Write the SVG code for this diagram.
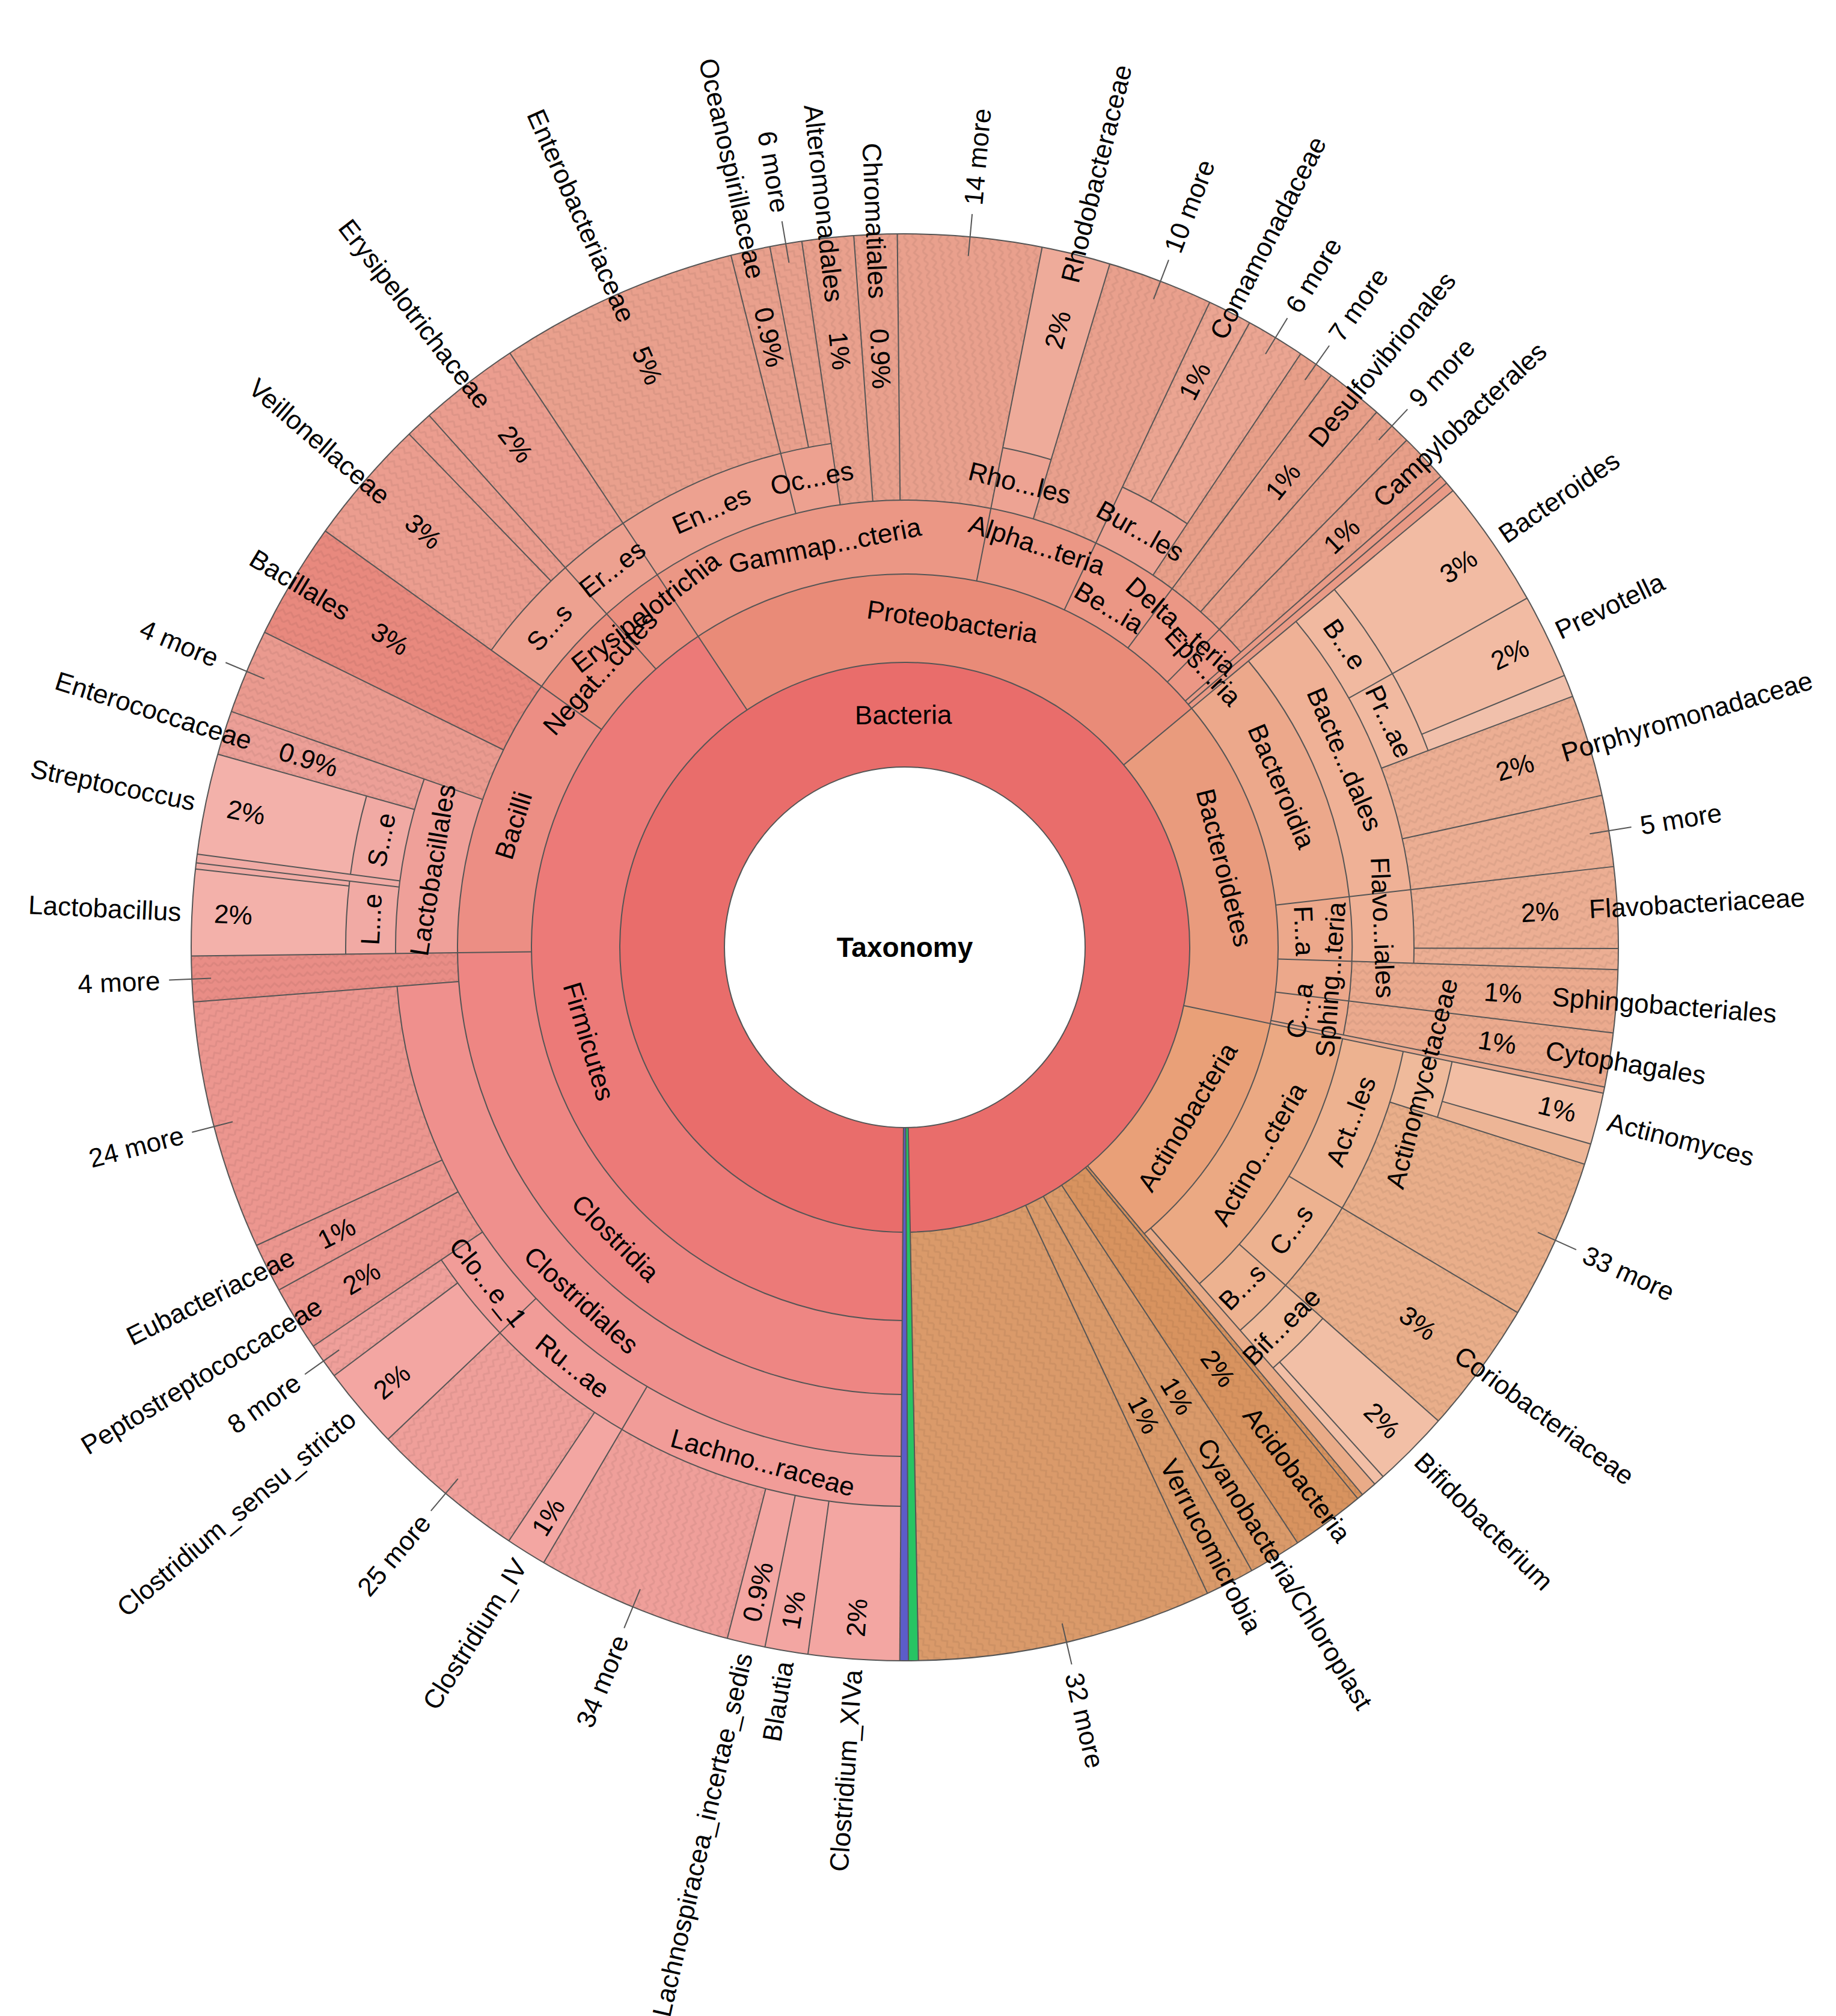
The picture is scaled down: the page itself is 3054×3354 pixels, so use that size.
<svg xmlns="http://www.w3.org/2000/svg" width="3054" height="3354" viewBox="0 0 3054 3354">
<style>
.b{fill:none}
.h{fill:none;stroke:url(#hp)}
.o{fill:none;stroke:#555;stroke-width:2}
.l{stroke:#555;stroke-width:2;fill:none}
text{font-family:"Liberation Sans",Arial,sans-serif;font-size:44px;fill:#000;dominant-baseline:central}
.m{text-anchor:middle}.s{text-anchor:start}.e{text-anchor:end}
.t{font-weight:bold;font-size:46px}
</style>
<defs>
<pattern id="hp" width="28" height="28" patternUnits="userSpaceOnUse"><path d="M0 7L7 0L14 7L21 0L28 7M0 21L7 14L14 21L21 14L28 21" fill="none" stroke="#000" stroke-opacity="0.06" stroke-width="3"/></pattern>
</defs>
<rect width="3054" height="3354" fill="#fff"/>
<g transform="translate(1505,1576)">
<g id="kingdom">
<circle class="b" r="387" stroke-width="174" stroke="#e96d6b" pathLength="360" stroke-dasharray="358.5 999" transform="rotate(90.4)"/>
<circle class="b" r="743.5" stroke-width="887" stroke="#27c463" pathLength="360" stroke-dasharray="0.8 999" transform="rotate(88.9)"/>
<circle class="b" r="743.5" stroke-width="887" stroke="#5c5cc9" pathLength="360" stroke-dasharray="0.7 999" transform="rotate(89.7)"/>
</g>
<g id="phylum">
<circle class="b" r="547.5" stroke-width="147" stroke="#ec7a78" pathLength="360" stroke-dasharray="146 999" transform="rotate(90.4)"/>
<circle class="b" r="547.5" stroke-width="147" stroke="#e98b78" pathLength="360" stroke-dasharray="83.8 999" transform="rotate(236.4)"/>
<circle class="b" r="547.5" stroke-width="147" stroke="#e99b7d" pathLength="360" stroke-dasharray="51.6 999" transform="rotate(-39.8)"/>
<circle class="b" r="547.5" stroke-width="147" stroke="#e9a078" pathLength="360" stroke-dasharray="38.3 999" transform="rotate(11.8)"/>
<circle class="b" r="830.5" stroke-width="713" stroke="#d8935f" pathLength="360" stroke-dasharray="6.5 999" transform="rotate(50.1)"/>
<circle class="b" r="830.5" stroke-width="713" stroke="#da9a6a" pathLength="360" stroke-dasharray="32.3 999" transform="rotate(56.6)"/>
<circle class="h" r="830.5" stroke-width="713" pathLength="360" stroke-dasharray="38.8 999" transform="rotate(50.1)"/>
</g>
<g id="class">
<circle class="b" r="682.5" stroke-width="123" stroke="#ee8683" pathLength="360" stroke-dasharray="88.9 999" transform="rotate(90.4)"/>
<circle class="b" r="682.5" stroke-width="123" stroke="#ec8e84" pathLength="360" stroke-dasharray="36.4 999" transform="rotate(179.3)"/>
<circle class="b" r="682.5" stroke-width="123" stroke="#eb8f7f" pathLength="360" stroke-dasharray="20.7 999" transform="rotate(215.7)"/>
<circle class="b" r="682.5" stroke-width="123" stroke="#eb9785" pathLength="360" stroke-dasharray="82.3 999" transform="rotate(236.4)"/>
<circle class="b" r="904" stroke-width="566" stroke="#e99a86" pathLength="360" stroke-dasharray="1.5 999" transform="rotate(-41.3)"/>
<circle class="b" r="682.5" stroke-width="123" stroke="#eca88b" pathLength="360" stroke-dasharray="51.1 999" transform="rotate(-39.8)"/>
<circle class="b" r="904" stroke-width="566" stroke="#eaa98e" pathLength="360" stroke-dasharray="0.5 999" transform="rotate(11.3)"/>
<circle class="b" r="682.5" stroke-width="123" stroke="#eba983" pathLength="360" stroke-dasharray="37 999" transform="rotate(11.8)"/>
<circle class="b" r="904" stroke-width="566" stroke="#e9ab88" pathLength="360" stroke-dasharray="1.3 999" transform="rotate(48.8)"/>
</g>
<g id="order">
<circle class="b" r="795.5" stroke-width="103" stroke="#ef908d" pathLength="360" stroke-dasharray="85.2 999" transform="rotate(90.4)"/>
<circle class="b" r="965.5" stroke-width="443" stroke="#e98d86" pathLength="360" stroke-dasharray="3.7 999" transform="rotate(175.6)"/>
<circle class="h" r="965.5" stroke-width="443" pathLength="360" stroke-dasharray="3.7 999" transform="rotate(175.6)"/>
<circle class="b" r="795.5" stroke-width="103" stroke="#efa099" pathLength="360" stroke-dasharray="20 999" transform="rotate(179.3)"/>
<circle class="b" r="965.5" stroke-width="443" stroke="#ea9a8f" pathLength="360" stroke-dasharray="6.9 999" transform="rotate(199.3)"/>
<circle class="b" r="965.5" stroke-width="443" stroke="#e8897e" pathLength="360" stroke-dasharray="9.5 999" transform="rotate(206.2)"/>
<circle class="h" r="965.5" stroke-width="443" pathLength="360" stroke-dasharray="16.4 999" transform="rotate(199.3)"/>
<circle class="b" r="795.5" stroke-width="103" stroke="#eda190" pathLength="360" stroke-dasharray="46 999" transform="rotate(215.7)"/>
<circle class="b" r="965.5" stroke-width="443" stroke="#e9a08d" pathLength="360" stroke-dasharray="19.4 999" transform="rotate(261.7)"/>
<circle class="h" r="965.5" stroke-width="443" pathLength="360" stroke-dasharray="19.4 999" transform="rotate(261.7)"/>
<circle class="b" r="795.5" stroke-width="103" stroke="#eda393" pathLength="360" stroke-dasharray="5.6 999" transform="rotate(-78.9)"/>
<circle class="b" r="965.5" stroke-width="443" stroke="#e9a08d" pathLength="360" stroke-dasharray="8.6 999" transform="rotate(-73.3)"/>
<circle class="h" r="965.5" stroke-width="443" pathLength="360" stroke-dasharray="8.6 999" transform="rotate(-73.3)"/>
<circle class="b" r="795.5" stroke-width="103" stroke="#eda393" pathLength="360" stroke-dasharray="8.4 999" transform="rotate(-64.7)"/>
<circle class="b" r="965.5" stroke-width="443" stroke="#e89f89" pathLength="360" stroke-dasharray="15 999" transform="rotate(-56.3)"/>
<circle class="h" r="965.5" stroke-width="443" pathLength="360" stroke-dasharray="15 999" transform="rotate(-56.3)"/>
<circle class="b" r="795.5" stroke-width="103" stroke="#efb196" pathLength="360" stroke-dasharray="41.6 999" transform="rotate(-39.8)"/>
<circle class="b" r="965.5" stroke-width="443" stroke="#ebaa8e" pathLength="360" stroke-dasharray="9.5 999" transform="rotate(1.8)"/>
<circle class="h" r="965.5" stroke-width="443" pathLength="360" stroke-dasharray="9.5 999" transform="rotate(1.8)"/>
<circle class="b" r="795.5" stroke-width="103" stroke="#edb290" pathLength="360" stroke-dasharray="37 999" transform="rotate(11.8)"/>
</g>
<g id="family">
<circle class="b" r="888.5" stroke-width="83" stroke="#f19c98" pathLength="360" stroke-dasharray="55.6 999" transform="rotate(90.4)"/>
<circle class="b" r="1017" stroke-width="340" stroke="#ec968f" pathLength="360" stroke-dasharray="29.6 999" transform="rotate(146)"/>
<circle class="h" r="1017" stroke-width="340" pathLength="360" stroke-dasharray="29.6 999" transform="rotate(146)"/>
<circle class="b" r="888.5" stroke-width="83" stroke="#f1aaa4" pathLength="360" stroke-dasharray="7.5 999" transform="rotate(179.3)"/>
<circle class="b" r="1017" stroke-width="340" stroke="#f0aba5" pathLength="360" stroke-dasharray="0.7 999" transform="rotate(186.8)"/>
<circle class="b" r="888.5" stroke-width="83" stroke="#f1aaa4" pathLength="360" stroke-dasharray="8.2 999" transform="rotate(187.5)"/>
<circle class="b" r="1017" stroke-width="340" stroke="#ec9f97" pathLength="360" stroke-dasharray="3.6 999" transform="rotate(195.7)"/>
<circle class="h" r="1017" stroke-width="340" pathLength="360" stroke-dasharray="3.6 999" transform="rotate(195.7)"/>
<circle class="b" r="1017" stroke-width="340" stroke="#eb9d8f" pathLength="360" stroke-dasharray="20.7 999" transform="rotate(215.7)"/>
<circle class="b" r="1017" stroke-width="340" stroke="#e9a08d" pathLength="360" stroke-dasharray="25.3 999" transform="rotate(236.4)"/>
<circle class="h" r="1017" stroke-width="340" pathLength="360" stroke-dasharray="46 999" transform="rotate(215.7)"/>
<circle class="b" r="1017" stroke-width="340" stroke="#eeab9a" pathLength="360" stroke-dasharray="5.6 999" transform="rotate(-78.9)"/>
<circle class="b" r="1017" stroke-width="340" stroke="#eba592" pathLength="360" stroke-dasharray="8.4 999" transform="rotate(-64.7)"/>
<circle class="h" r="1017" stroke-width="340" pathLength="360" stroke-dasharray="8.4 999" transform="rotate(-64.7)"/>
<circle class="b" r="888.5" stroke-width="83" stroke="#f1b9a0" pathLength="360" stroke-dasharray="19.2 999" transform="rotate(-39.8)"/>
<circle class="b" r="1017" stroke-width="340" stroke="#ecae93" pathLength="360" stroke-dasharray="22.4 999" transform="rotate(-20.6)"/>
<circle class="h" r="1017" stroke-width="340" pathLength="360" stroke-dasharray="22.4 999" transform="rotate(-20.6)"/>
<circle class="b" r="888.5" stroke-width="83" stroke="#efba9b" pathLength="360" stroke-dasharray="5.9 999" transform="rotate(11.8)"/>
<circle class="b" r="1017" stroke-width="340" stroke="#e9ae8a" pathLength="360" stroke-dasharray="23.9 999" transform="rotate(17.7)"/>
<circle class="h" r="1017" stroke-width="340" pathLength="360" stroke-dasharray="23.9 999" transform="rotate(17.7)"/>
<circle class="b" r="888.5" stroke-width="83" stroke="#efba9b" pathLength="360" stroke-dasharray="7.2 999" transform="rotate(41.6)"/>
</g>
<g id="genus">
<circle class="b" r="1058.5" stroke-width="257" stroke="#f3a6a2" pathLength="360" stroke-dasharray="55.6 999" transform="rotate(90.4)"/>
<circle class="b" r="1058.5" stroke-width="257" stroke="#ef9f9a" pathLength="360" stroke-dasharray="16 999" transform="rotate(104.4)"/>
<circle class="h" r="1058.5" stroke-width="257" pathLength="360" stroke-dasharray="16 999" transform="rotate(104.4)"/>
<circle class="b" r="1058.5" stroke-width="257" stroke="#ef9f9a" pathLength="360" stroke-dasharray="12.7 999" transform="rotate(123.7)"/>
<circle class="h" r="1058.5" stroke-width="257" pathLength="360" stroke-dasharray="12.7 999" transform="rotate(123.7)"/>
<circle class="b" r="1058.5" stroke-width="257" stroke="#ef9f9a" pathLength="360" stroke-dasharray="2.9 999" transform="rotate(143.1)"/>
<circle class="h" r="1058.5" stroke-width="257" pathLength="360" stroke-dasharray="2.9 999" transform="rotate(143.1)"/>
<circle class="b" r="1058.5" stroke-width="257" stroke="#f3b1aa" pathLength="360" stroke-dasharray="7 999" transform="rotate(179.3)"/>
<circle class="b" r="1058.5" stroke-width="257" stroke="#f0aba5" pathLength="360" stroke-dasharray="0.5 999" transform="rotate(186.3)"/>
<circle class="b" r="1058.5" stroke-width="257" stroke="#f3b1aa" pathLength="360" stroke-dasharray="8.2 999" transform="rotate(187.5)"/>
<circle class="b" r="1058.5" stroke-width="257" stroke="#f2bba3" pathLength="360" stroke-dasharray="17.4 999" transform="rotate(-39.8)"/>
<circle class="b" r="1058.5" stroke-width="257" stroke="#f1c0ab" pathLength="360" stroke-dasharray="1.8 999" transform="rotate(-22.4)"/>
<circle class="b" r="1058.5" stroke-width="257" stroke="#f2bea4" pathLength="360" stroke-dasharray="4.2 999" transform="rotate(11.8)"/>
<circle class="b" r="1058.5" stroke-width="257" stroke="#edb596" pathLength="360" stroke-dasharray="1.7 999" transform="rotate(16)"/>
<circle class="b" r="1058.5" stroke-width="257" stroke="#f2bfa6" pathLength="360" stroke-dasharray="7.2 999" transform="rotate(41.6)"/>
</g>
<g id="outlines">
<circle class="o" r="300"/>
<circle class="o" r="1187"/>
<circle class="o" r="474" pathLength="360" stroke-dasharray="358.5 999" transform="rotate(90.4)"/>
<circle class="o" r="621" pathLength="360" stroke-dasharray="319.7 999" transform="rotate(90.4)"/>
<circle class="o" r="744" pathLength="360" stroke-dasharray="228.3 999" transform="rotate(90.4)"/>
<circle class="o" r="744" pathLength="360" stroke-dasharray="51.1 999" transform="rotate(-39.8)"/>
<circle class="o" r="744" pathLength="360" stroke-dasharray="37 999" transform="rotate(11.8)"/>
<circle class="o" r="847" pathLength="360" stroke-dasharray="85.2 999" transform="rotate(90.4)"/>
<circle class="o" r="847" pathLength="360" stroke-dasharray="20 999" transform="rotate(179.3)"/>
<circle class="o" r="847" pathLength="360" stroke-dasharray="46 999" transform="rotate(215.7)"/>
<circle class="o" r="847" pathLength="360" stroke-dasharray="5.6 999" transform="rotate(-78.9)"/>
<circle class="o" r="847" pathLength="360" stroke-dasharray="8.4 999" transform="rotate(-64.7)"/>
<circle class="o" r="847" pathLength="360" stroke-dasharray="41.6 999" transform="rotate(-39.8)"/>
<circle class="o" r="847" pathLength="360" stroke-dasharray="37 999" transform="rotate(11.8)"/>
<circle class="o" r="930" pathLength="360" stroke-dasharray="55.6 999" transform="rotate(90.4)"/>
<circle class="o" r="930" pathLength="360" stroke-dasharray="7.5 999" transform="rotate(179.3)"/>
<circle class="o" r="930" pathLength="360" stroke-dasharray="8.2 999" transform="rotate(187.5)"/>
<circle class="o" r="930" pathLength="360" stroke-dasharray="19.2 999" transform="rotate(-39.8)"/>
<circle class="o" r="930" pathLength="360" stroke-dasharray="5.9 999" transform="rotate(11.8)"/>
<circle class="o" r="930" pathLength="360" stroke-dasharray="7.2 999" transform="rotate(41.6)"/>
<path class="l" d="M0 -300V-1187" transform="rotate(180.4)"/>
<path class="l" d="M0 -300V-1187" transform="rotate(178.9)"/>
<path class="l" d="M0 -300V-1187" transform="rotate(179.7)"/>
<path class="l" d="M0 -474V-1187" transform="rotate(326.4)"/>
<path class="l" d="M0 -474V-1187" transform="rotate(50.2)"/>
<path class="l" d="M0 -474V-1187" transform="rotate(101.8)"/>
<path class="l" d="M0 -474V-1187" transform="rotate(140.1)"/>
<path class="l" d="M0 -474V-1187" transform="rotate(140.6)"/>
<path class="l" d="M0 -474V-1187" transform="rotate(146.6)"/>
<path class="l" d="M0 -474V-1187" transform="rotate(150.9)"/>
<path class="l" d="M0 -474V-1187" transform="rotate(154.9)"/>
<path class="l" d="M0 -621V-1187" transform="rotate(269.3)"/>
<path class="l" d="M0 -621V-1187" transform="rotate(305.7)"/>
<path class="l" d="M0 -621V-1187" transform="rotate(318.2)"/>
<path class="l" d="M0 -621V-1187" transform="rotate(11.1)"/>
<path class="l" d="M0 -621V-1187" transform="rotate(25.3)"/>
<path class="l" d="M0 -621V-1187" transform="rotate(36.7)"/>
<path class="l" d="M0 -621V-1187" transform="rotate(44.7)"/>
<path class="l" d="M0 -621V-1187" transform="rotate(48.7)"/>
<path class="l" d="M0 -621V-1187" transform="rotate(49.4)"/>
<path class="l" d="M0 -621V-1187" transform="rotate(83.5)"/>
<path class="l" d="M0 -621V-1187" transform="rotate(91.8)"/>
<path class="l" d="M0 -621V-1187" transform="rotate(96.9)"/>
<path class="l" d="M0 -621V-1187" transform="rotate(101.3)"/>
<path class="l" d="M0 -621V-1187" transform="rotate(138.8)"/>
<path class="l" d="M0 -744V-1187" transform="rotate(265.6)"/>
<path class="l" d="M0 -744V-1187" transform="rotate(289.3)"/>
<path class="l" d="M0 -744V-1187" transform="rotate(296.2)"/>
<path class="l" d="M0 -744V-1187" transform="rotate(345.9)"/>
<path class="l" d="M0 -744V-1187" transform="rotate(351.7)"/>
<path class="l" d="M0 -744V-1187" transform="rotate(355.9)"/>
<path class="l" d="M0 -744V-1187" transform="rotate(359.4)"/>
<path class="l" d="M0 -744V-1187" transform="rotate(16.7)"/>
<path class="l" d="M0 -744V-1187" transform="rotate(33.7)"/>
<path class="l" d="M0 -744V-1187" transform="rotate(41.4)"/>
<path class="l" d="M0 -744V-1187" transform="rotate(120.8)"/>
<path class="l" d="M0 -744V-1187" transform="rotate(131.6)"/>
<path class="l" d="M0 -847V-1187" transform="rotate(210.4)"/>
<path class="l" d="M0 -847V-1187" transform="rotate(226.4)"/>
<path class="l" d="M0 -847V-1187" transform="rotate(236)"/>
<path class="l" d="M0 -847V-1187" transform="rotate(241.3)"/>
<path class="l" d="M0 -847V-1187" transform="rotate(245.3)"/>
<path class="l" d="M0 -847V-1187" transform="rotate(276.8)"/>
<path class="l" d="M0 -847V-1187" transform="rotate(277.5)"/>
<path class="l" d="M0 -847V-1187" transform="rotate(285.7)"/>
<path class="l" d="M0 -847V-1187" transform="rotate(316)"/>
<path class="l" d="M0 -847V-1187" transform="rotate(349.1)"/>
<path class="l" d="M0 -847V-1187" transform="rotate(28.9)"/>
<path class="l" d="M0 -847V-1187" transform="rotate(60.7)"/>
<path class="l" d="M0 -847V-1187" transform="rotate(69.4)"/>
<path class="l" d="M0 -847V-1187" transform="rotate(77.7)"/>
<path class="l" d="M0 -847V-1187" transform="rotate(90.1)"/>
<path class="l" d="M0 -847V-1187" transform="rotate(107.7)"/>
<path class="l" d="M0 -930V-1187" transform="rotate(187.8)"/>
<path class="l" d="M0 -930V-1187" transform="rotate(191.3)"/>
<path class="l" d="M0 -930V-1187" transform="rotate(194.4)"/>
<path class="l" d="M0 -930V-1187" transform="rotate(213.7)"/>
<path class="l" d="M0 -930V-1187" transform="rotate(233.1)"/>
<path class="l" d="M0 -930V-1187" transform="rotate(276.3)"/>
<path class="l" d="M0 -930V-1187" transform="rotate(67.6)"/>
<path class="l" d="M0 -930V-1187" transform="rotate(106)"/>
<path class="l" d="M0 -930V-1187" transform="rotate(137.9)"/>
</g>
<g id="inner-labels">
<text class="m t" x="0" y="0">Taxonomy</text>
<text class="m" transform="rotate(359.65) translate(0,-387)">Bacteria</text>
<text class="m" transform="rotate(253.4) translate(0,-548) rotate(180)">Firmicutes</text>
<text class="m" transform="rotate(8.3) translate(0,-548)">Proteobacteria</text>
<text class="m" transform="rotate(76) translate(0,-548)">Bacteroidetes</text>
<text class="m" transform="rotate(121) translate(0,-548) rotate(180)">Actinobacteria</text>
<text class="m" transform="rotate(224.85) translate(0,-682) rotate(180)">Clostridia</text>
<text class="m" transform="rotate(287.3) translate(0,-682)">Bacilli</text>
<text class="m" transform="rotate(312) translate(0,-682)">Negat...cutes</text>
<text class="m" transform="rotate(322.3) translate(0,-705)">Erysipelotrichia</text>
<text class="m" transform="rotate(348.75) translate(0,-682)">Gammap...cteria</text>
<text class="m" transform="rotate(18.2) translate(0,-705)">Alpha...teria</text>
<text class="m" transform="rotate(31) translate(0,-660)">Be...ia</text>
<text class="m" transform="rotate(40.7) translate(0,-705)">Delta...teria</text>
<text class="m" transform="rotate(46.7) translate(0,-682)">Eps...ria</text>
<text class="m" transform="rotate(66.85) translate(0,-682)">Bacteroidia</text>
<text class="m" transform="rotate(87.65) translate(0,-665)">F...a</text>
<text class="m" transform="rotate(94.35) translate(0,-710) rotate(180)">Sphing...teria</text>
<text class="m" transform="rotate(99.1) translate(0,-665) rotate(180)">C...a</text>
<text class="m" transform="rotate(120.3) translate(0,-682) rotate(180)">Actino...cteria</text>
<text class="m" transform="rotate(222.5) translate(0,-796) rotate(180)">Clostridiales</text>
<text class="m" transform="rotate(279.3) translate(0,-796)">Lactobacillales</text>
<text class="m" transform="rotate(312) translate(0,-796)">S...s</text>
<text class="m" transform="rotate(322.3) translate(0,-796)">Er...es</text>
<text class="m" transform="rotate(336.15) translate(0,-796)">En...es</text>
<text class="m" transform="rotate(348.8) translate(0,-796)">Oc...es</text>
<text class="m" transform="rotate(13.9) translate(0,-796)">Rho...les</text>
<text class="m" transform="rotate(29.5) translate(0,-796)">Bur...les</text>
<text class="m" transform="rotate(66.85) translate(0,-796)">Bacte...dales</text>
<text class="m" transform="rotate(87.65) translate(0,-796)">Flavo...iales</text>
<text class="m" transform="rotate(111.3) translate(0,-796) rotate(180)">Act...les</text>
<text class="m" transform="rotate(126.2) translate(0,-796) rotate(180)">C...s</text>
<text class="m" transform="rotate(135.2) translate(0,-796) rotate(180)">B...s</text>
<text class="m" transform="rotate(195.4) translate(0,-889) rotate(180)">Lachno...raceae</text>
<text class="m" transform="rotate(218.4) translate(0,-889) rotate(180)">Ru...ae</text>
<text class="m" transform="rotate(231.2) translate(0,-889) rotate(180)">Clo...e_1</text>
<text class="m" transform="rotate(273) translate(0,-889)">L...e</text>
<text class="m" transform="rotate(281.6) translate(0,-889)">S...e</text>
<text class="m" transform="rotate(55.45) translate(0,-889)">B...e</text>
<text class="m" transform="rotate(65) translate(0,-889)">Pr...ae</text>
<text class="m" transform="rotate(104.75) translate(0,-889) rotate(180)">Actinomycetaceae</text>
<text class="m" transform="rotate(135.2) translate(0,-889) rotate(180)">Bif...eae</text>
</g>
<g id="leaf-labels">
<g transform="rotate(53.35)"><text class="e" x="905">2%</text><text class="s" x="960">Acidobacteria</text></g>
<g transform="rotate(58.75)"><text class="e" x="905">1%</text><text class="s" x="960">Cyanobacteria/Chloroplast</text></g>
<g transform="rotate(62.9)"><text class="e" x="905">1%</text><text class="s" x="960">Verrucomicrobia</text></g>
<g transform="rotate(443.8)"><text class="s" x="-1030">1%</text><text class="e" x="-1080">Alteromonadales</text></g>
<g transform="rotate(447.65)"><text class="s" x="-1030">0.9%</text><text class="e" x="-1080">Chromatiales</text></g>
<g transform="rotate(-50.95)"><text class="e" x="1030">1%</text><text class="s" x="1080">Desulfovibrionales</text></g>
<g transform="rotate(-43.3)"><text class="e" x="1030">1%</text><text class="s" x="1080">Campylobacterales</text></g>
<g transform="rotate(390.95)"><text class="s" x="-1030">3%</text><text class="e" x="-1080">Bacillales</text></g>
<g transform="rotate(4.35)"><text class="e" x="1030">1%</text><text class="s" x="1080">Sphingobacteriales</text></g>
<g transform="rotate(9.1)"><text class="e" x="1030">1%</text><text class="s" x="1080">Cytophagales</text></g>
<g transform="rotate(426.15)"><text class="s" x="-1090">5%</text><text class="e" x="-1140">Enterobacteriaceae</text></g>
<g transform="rotate(437.5)"><text class="s" x="-1090">0.9%</text><text class="e" x="-1140">Oceanospirillaceae</text></g>
<g transform="rotate(-76.1)"><text class="e" x="1090">2%</text><text class="s" x="1140">Rhodobacteraceae</text></g>
<g transform="rotate(-62.9)"><text class="e" x="1090">1%</text><text class="s" x="1140">Comamonadaceae</text></g>
<g transform="rotate(400.85)"><text class="s" x="-1090">3%</text><text class="e" x="-1140">Veillonellaceae</text></g>
<g transform="rotate(412.3)"><text class="s" x="-1090">2%</text><text class="e" x="-1140">Erysipelotrichaceae</text></g>
<g transform="rotate(377.5)"><text class="s" x="-1090">0.9%</text><text class="e" x="-1140">Enterococcaceae</text></g>
<g transform="rotate(-16.45)"><text class="e" x="1090">2%</text><text class="s" x="1140">Porphyromonadaceae</text></g>
<g transform="rotate(-3.2)"><text class="e" x="1090">2%</text><text class="s" x="1140">Flavobacteriaceae</text></g>
<g transform="rotate(36.2)"><text class="e" x="1090">3%</text><text class="s" x="1140">Coriobacteriaceae</text></g>
<g transform="rotate(333.3)"><text class="s" x="-1090">1%</text><text class="e" x="-1140">Eubacteriaceae</text></g>
<g transform="rotate(328.65)"><text class="s" x="-1090">2%</text><text class="e" x="-1140">Peptostreptococcaceae</text></g>
<g transform="rotate(362.8)"><text class="s" x="-1150">2%</text><text class="e" x="-1205">Lactobacillus</text></g>
<g transform="rotate(371.6)"><text class="s" x="-1150">2%</text><text class="e" x="-1205">Streptococcus</text></g>
<g transform="rotate(-34.55)"><text class="e" x="1150">3%</text><text class="s" x="1205">Bacteroides</text></g>
<g transform="rotate(-25.85)"><text class="e" x="1150">2%</text><text class="s" x="1205">Prevotella</text></g>
<g transform="rotate(13.9)"><text class="e" x="1150">1%</text><text class="s" x="1205">Actinomyces</text></g>
<g transform="rotate(44.75)"><text class="e" x="1150">2%</text><text class="s" x="1205">Bifidobacterium</text></g>
<g transform="rotate(319.75)"><text class="s" x="-1150">2%</text><text class="e" x="-1205">Clostridium_sensu_stricto</text></g>
<g transform="rotate(302.05)"><text class="s" x="-1150">1%</text><text class="e" x="-1205">Clostridium_IV</text></g>
<g transform="rotate(282.85)"><text class="s" x="-1150">0.9%</text><text class="e" x="-1205">Lachnospiracea_incertae_sedis</text></g>
<g transform="rotate(279.55)"><text class="s" x="-1150">1%</text><text class="e" x="-1205">Blautia</text></g>
<g transform="rotate(274.1)"><text class="s" x="-1150">2%</text><text class="e" x="-1205">Clostridium_XIVa</text></g>
</g>
<g id="more-labels">
<g transform="rotate(440.4)"><path class="l" d="M-1155 0H-1225"/><text class="e" x="-1240">6 more</text></g>
<g transform="rotate(-84.75)"><path class="l" d="M1155 0H1225"/><text class="s" x="1240">14 more</text></g>
<g transform="rotate(-69)"><path class="l" d="M1155 0H1225"/><text class="s" x="1240">10 more</text></g>
<g transform="rotate(-58.7)"><path class="l" d="M1155 0H1225"/><text class="s" x="1240">6 more</text></g>
<g transform="rotate(-54.8)"><path class="l" d="M1155 0H1225"/><text class="s" x="1240">7 more</text></g>
<g transform="rotate(-46.95)"><path class="l" d="M1155 0H1225"/><text class="s" x="1240">9 more</text></g>
<g transform="rotate(-9.4)"><path class="l" d="M1155 0H1225"/><text class="s" x="1240">5 more</text></g>
<g transform="rotate(24.25)"><path class="l" d="M1155 0H1225"/><text class="s" x="1240">33 more</text></g>
<g transform="rotate(76.9)"><path class="l" d="M1155 0H1225"/><text class="s" x="1240">32 more</text></g>
<g transform="rotate(292.4)"><path class="l" d="M-1155 0H-1225"/><text class="e" x="-1240">34 more</text></g>
<g transform="rotate(310.05)"><path class="l" d="M-1155 0H-1225"/><text class="e" x="-1240">25 more</text></g>
<g transform="rotate(324.55)"><path class="l" d="M-1155 0H-1225"/><text class="e" x="-1240">8 more</text></g>
<g transform="rotate(345.45)"><path class="l" d="M-1155 0H-1225"/><text class="e" x="-1240">24 more</text></g>
<g transform="rotate(357.45)"><path class="l" d="M-1155 0H-1225"/><text class="e" x="-1240">4 more</text></g>
<g transform="rotate(382.75)"><path class="l" d="M-1155 0H-1225"/><text class="e" x="-1240">4 more</text></g>
</g>
</g>
</svg>
